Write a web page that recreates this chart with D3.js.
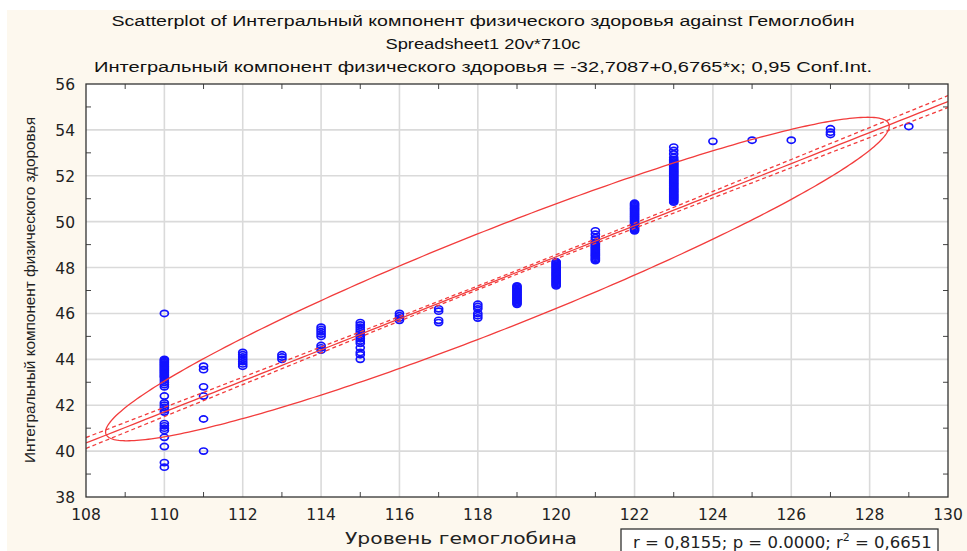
<!DOCTYPE html>
<html><head><meta charset="utf-8">
<script src="https://cdn.jsdelivr.net/npm/d3@7"></script>
<style>
html,body{margin:0;padding:0;background:#fff;}
svg{display:block;font-family:"Liberation Sans",Arial,sans-serif;}
</style></head>
<body>
<svg id="c" width="967" height="551"></svg>
<script>
// ---- data ----
const titleLines = [
  "Scatterplot of Интегральный компонент физического здоровья against Гемоглобин",
  "Spreadsheet1 20v*710c",
  "Интегральный компонент физического здоровья = -32,7087+0,6765*x; 0,95 Conf.Int."
];
const xLabel = "Уровень гемоглобина";
const yLabel = "Интегральный компонент физического здоровья";
const xTicks = [108,110,112,114,116,118,120,122,124,126,128,130];
const yTicks = [38,40,42,44,46,48,50,52,54,56];
const hbLevels = [110,111,112,113,114,115,116,117,118,119,120,121,122,123,124,125,126,127,129];
const healthScores = [
  [46.0,44.0,43.95,43.9,43.85,43.8,43.75,43.7,43.65,43.6,43.55,43.5,43.45,43.4,43.35,43.3,43.25,43.2,43.1,43.0,42.9,42.8,42.4,42.1,42.0,41.9,41.8,41.7,41.2,41.1,41.0,40.9,40.6,40.2,39.5,39.3],
  [43.7,43.55,42.8,42.4,41.4,40.0],
  [44.3,44.2,44.1,44.0,43.9,43.8,43.7],
  [44.2,44.1,44.0],
  [45.4,45.3,45.2,45.1,45.0,44.6,44.5,44.4],
  [45.6,45.5,45.4,45.3,45.2,45.1,45.0,44.9,44.8,44.7,44.5,44.3,44.2,44.0],
  [46.0,45.9,45.8,45.7],
  [46.2,46.1,45.7,45.6],
  [46.4,46.3,46.2,46.0,45.9,45.8],
  [47.2,47.15,47.1,47.05,47.0,46.95,46.9,46.85,46.8,46.75,46.7,46.65,46.6,46.55,46.5,46.45,46.4],
  [48.25,48.2,48.15,48.1,48.05,48.0,47.95,47.9,47.85,47.8,47.75,47.7,47.65,47.6,47.55,47.5,47.45,47.4,47.35,47.3,47.25,47.2],
  [49.6,49.45,49.3,49.2,49.1,49.05,49.0,48.95,48.9,48.85,48.8,48.75,48.7,48.65,48.6,48.55,48.5,48.45,48.4,48.35,48.3],
  [50.8,50.75,50.7,50.65,50.6,50.55,50.5,50.45,50.4,50.35,50.3,50.25,50.2,50.15,50.1,50.05,50.0,49.95,49.9,49.85,49.8,49.75,49.7,49.65,49.6],
  [53.25,53.1,52.95,52.8,52.7,52.65,52.6,52.55,52.5,52.45,52.4,52.35,52.3,52.25,52.2,52.15,52.1,52.05,52.0,51.95,51.9,51.85,51.8,51.75,51.7,51.65,51.6,51.55,51.5,51.45,51.4,51.35,51.3,51.25,51.2,51.15,51.1,51.05,51.0,50.95,50.9,50.85],
  [53.5],
  [53.55],
  [53.55],
  [54.05,53.9,53.8],
  [54.15]
];
const regression = {intercept: -32.7087, slope: 0.6765};
const ciParams = {n: 710, meanX: 118.5, sxx: 10580, se: 1.12, t: 1.96};
const ellipseParams = {cx: 118.5, cy: 47.5, rx: 10, ry: 7.05, rho: 0.945};
const statsText = ["r = 0,8155; p = 0.0000; r", "2", " = 0,6651"];

// ---- layout ----
const W = 967, H = 551;
const L = 86, R = 948, T = 84, B = 497;
const svg = d3.select("#c");
svg.append("rect").attr("width",W).attr("height",H).attr("fill","#fff");
svg.append("rect").attr("x",7).attr("y",10).attr("width",W-7).attr("height",H-10).attr("fill","#fdf8ee");

const x = d3.scaleLinear().domain([108,130]).range([L,R]);
const y = d3.scaleLinear().domain([38,56]).range([B,T]);

svg.append("rect").attr("x",L).attr("y",T).attr("width",R-L).attr("height",B-T).attr("fill","#fff");

// grid
const grid = svg.append("g").attr("stroke","#dadada").attr("stroke-width",1.6);
xTicks.slice(1,-1).forEach(v=>grid.append("line").attr("x1",x(v)).attr("x2",x(v)).attr("y1",T).attr("y2",B));
yTicks.slice(1,-1).forEach(v=>grid.append("line").attr("y1",y(v)).attr("y2",y(v)).attr("x1",L).attr("x2",R));

// minor ticks (inside)
const mt = svg.append("g").attr("stroke","#444").attr("stroke-width",1);
d3.range(109,130,2).forEach(v=>{
  mt.append("line").attr("x1",x(v)).attr("x2",x(v)).attr("y1",B).attr("y2",B-5);
  mt.append("line").attr("x1",x(v)).attr("x2",x(v)).attr("y1",T).attr("y2",T+5);
});
d3.range(39,56,2).forEach(v=>{
  mt.append("line").attr("y1",y(v)).attr("y2",y(v)).attr("x1",L).attr("x2",L+5);
  mt.append("line").attr("y1",y(v)).attr("y2",y(v)).attr("x1",R).attr("x2",R-5);
});

// clip
svg.append("clipPath").attr("id","pc").append("rect").attr("x",L).attr("y",T).attr("width",R-L).attr("height",B-T);
const plot = svg.append("g").attr("clip-path","url(#pc)");

// points
const pts = [];
hbLevels.forEach((lv,i)=>healthScores[i].forEach(v=>pts.push([lv,v])));
plot.append("g").selectAll("ellipse").data(pts).join("ellipse")
  .attr("cx",d=>x(d[0])).attr("cy",d=>y(d[1])).attr("rx",4).attr("ry",3.1)
  .attr("fill","none").attr("stroke","#1212ff").attr("stroke-width",1.7);

// regression + CI
const red = "#f23c3c";
const xs = d3.range(108,130.01,0.25);
const fit = v=>regression.intercept+regression.slope*v;
const half = v=>ciParams.t*ciParams.se*Math.sqrt(1/ciParams.n+(v-ciParams.meanX)**2/ciParams.sxx);
const line = d3.line().x(d=>x(d[0])).y(d=>y(d[1]));
plot.append("path").attr("d",line(xs.map(v=>[v,fit(v)]))).attr("fill","none").attr("stroke",red).attr("stroke-width",1.3);
[1,-1].forEach(s=>plot.append("path").attr("d",line(xs.map(v=>[v,fit(v)+s*half(v)])))
  .attr("fill","none").attr("stroke",red).attr("stroke-width",1.3).attr("stroke-dasharray","4,3"));

// ellipse
const ep = ellipseParams;
const ell = d3.range(0,2*Math.PI+0.001,Math.PI/180).map(t=>[
  ep.cx+ep.rx*Math.cos(t),
  ep.cy+ep.ry*(ep.rho*Math.cos(t)+Math.sqrt(1-ep.rho*ep.rho)*Math.sin(t))]);
plot.append("path").attr("d",line(ell)+"Z").attr("fill","none").attr("stroke",red).attr("stroke-width",1.3);

// frame
svg.append("rect").attr("x",L).attr("y",T).attr("width",R-L).attr("height",B-T).attr("fill","none").attr("stroke","#333").attr("stroke-width",1.3);

// tick labels
const tl = svg.append("g").attr("font-size",15.5).attr("fill","#222").attr("font-family","'DejaVu Sans',Verdana,sans-serif");
xTicks.forEach(v=>tl.append("text").attr("x",x(v)).attr("y",520).attr("text-anchor","middle").text(v));
yTicks.forEach(v=>tl.append("text").attr("x",75).attr("y",y(v)+6).attr("text-anchor","end").text(v));

// axis titles
svg.append("text").attr("x",461).attr("y",544).attr("text-anchor","middle").attr("font-size",15.5)
  .attr("font-family","'DejaVu Sans',Verdana,sans-serif").attr("fill","#222")
  .attr("textLength",232).attr("lengthAdjust","spacingAndGlyphs").text(xLabel);
svg.append("text").attr("transform","translate(35,290) rotate(-90)").attr("text-anchor","middle").attr("font-size",15).attr("fill","#222")
  .attr("textLength",346).attr("lengthAdjust","spacingAndGlyphs").text(yLabel);

// titles
const tys = [26,49,72];
const tws = [743,195,778];
titleLines.forEach((s,i)=>svg.append("text").attr("x",483).attr("y",tys[i]).attr("text-anchor","middle")
  .attr("font-size",15.5).attr("fill","#111").attr("textLength",tws[i]).attr("lengthAdjust","spacingAndGlyphs").text(s));

// stats box
svg.append("rect").attr("x",621).attr("y",529).attr("width",317).attr("height",30).attr("fill","#fff").attr("stroke","#333").attr("stroke-width",1.3);
const st = svg.append("text").attr("x",633).attr("y",548).attr("font-size",16.5).attr("fill","#222")
  .attr("font-family","'DejaVu Sans',Verdana,sans-serif");
st.append("tspan").text(statsText[0]);
st.append("tspan").attr("font-size",11).attr("dy",-7).text(statsText[1]);
st.append("tspan").attr("dy",7).text(statsText[2]);
</script>
</body></html>
